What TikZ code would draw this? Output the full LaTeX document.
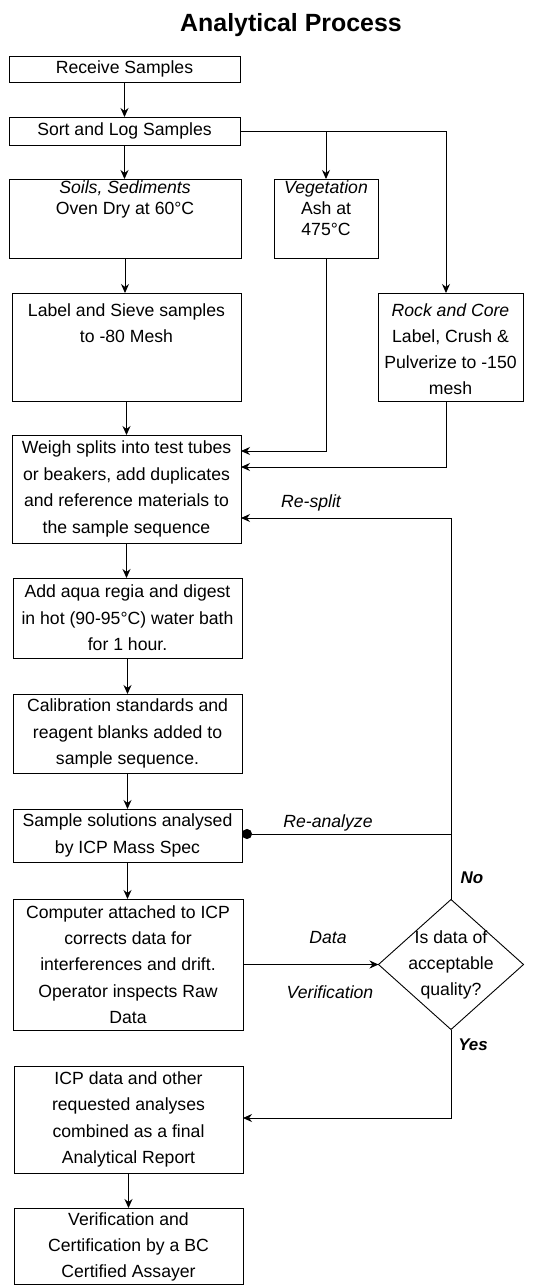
\documentclass[tikz,border=0pt]{standalone}
\usepackage{fontspec}
\setmainfont{Liberation Sans}
\usetikzlibrary{arrows.meta,shapes.geometric}
\newcommand\bodyfont{\fontsize{17.7}{26.5}\selectfont}
\newcommand\topfont{\fontsize{17.7}{20.8}\selectfont}
\begin{document}
\begin{tikzpicture}[x=1bp,y=-1bp,
  box/.style={draw, line width=0.9bp, inner sep=0pt, outer sep=0pt},
  txt/.style={align=center, font=\bodyfont, inner sep=0pt},
  ttxt/.style={align=center, font=\topfont, inner sep=0pt, anchor=north},
  lbl/.style={font=\bodyfont\itshape, inner sep=0pt},
  yn/.style={font=\fontsize{17}{20}\selectfont\bfseries\itshape, inner sep=0pt},
  arr/.style={line width=0.9bp, -{Stealth[length=9bp,width=8bp]}},
  ln/.style={line width=0.9bp},
  dotarr/.style={line width=0.9bp, -{Circle[length=10bp]}}
]
\useasboundingbox (0,0) rectangle (543,1286);

\node[font=\fontsize{25}{30}\selectfont\bfseries, inner sep=0pt] (title) at (291,25) {Analytical Process};

% boxes
\node[box, txt, minimum width=231bp, minimum height=26bp] (receive) at (124.5,69) {Receive Samples};
\node[box, txt, minimum width=231bp, minimum height=28bp] (sort) at (124.5,131) {Sort and Log Samples};

\node[box, minimum width=232bp, minimum height=79bp] (soils) at (125,218.5) {};
\node[ttxt] (soilst) at (125,181) {\itshape Soils, Sediments\\Oven Dry at 60°C};

\node[box, minimum width=104bp, minimum height=79bp] (veg) at (326,218.5) {};
\node[ttxt] (vegt) at (326,181) {\itshape Vegetation\\Ash at\\475°C};

\node[box, minimum width=229bp, minimum height=108bp] (label) at (126.5,347) {};
\node[ttxt, font=\bodyfont] (labelt) at (126.5,303.5) {Label and Sieve samples\\to -80 Mesh};

\node[box, minimum width=145bp, minimum height=108bp] (rock) at (450.5,347) {};
\node[txt, font=\fontsize{17.7}{26}\selectfont] (rockt) at (450.5,349) {\textit{Rock and Core}\\Label, Crush \&\\Pulverize to -150\\mesh};

\node[box, txt, minimum width=229bp, minimum height=108bp] (weigh) at (126.5,489) {Weigh splits into test tubes\\or beakers, add duplicates\\and reference materials to\\the sample sequence};

\node[box, txt, minimum width=229bp, minimum height=80bp] (add) at (127.5,618) {Add aqua regia and digest\\in hot (90-95°C) water bath\\for 1 hour.};

\node[box, txt, minimum width=229bp, minimum height=79bp] (calib) at (127.5,733.5) {Calibration standards and\\reagent blanks added to\\sample sequence.};

\node[box, txt, minimum width=229bp, minimum height=53bp] (sample) at (127.5,835.5) {Sample solutions analysed\\by ICP Mass Spec};

\node[box, txt, minimum width=230bp, minimum height=131bp] (computer) at (128,964.5) {Computer attached to ICP\\corrects data for\\interferences and drift.\\Operator inspects Raw\\Data};

\node[box, txt, minimum width=229bp, minimum height=107bp] (icp) at (128.5,1119.5) {ICP data and other\\requested analyses\\combined as a final\\Analytical Report};

\node[box, minimum width=229bp, minimum height=76bp] (verif) at (128.5,1246) {};
\node[txt] (veriftxt) at (128.5,1247) {Verification and\\Certification by a BC\\Certified Assayer};

\node[box, diamond, minimum width=145bp, minimum height=130bp] (dia) at (451,964.5) {};
\node[txt] (diat) at (451,965) {Is data of\\acceptable\\quality?};

% coordinates
\coordinate (rtop) at (446,131);
\coordinate (vj) at (326,451);
\coordinate (rj) at (446,467);
\coordinate (rs) at (451,518);
\coordinate (ra) at (451,834);
\coordinate (yj) at (451,1118);

% connectors
\draw[arr] (receive.south) -- (sort.north);
\draw[arr] (sort.south) -- (sort.south |- soils.north);
\draw[ln] (sort.east) -- (rtop);
\draw[arr] (rtop) -- (rtop |- rock.north);
\draw[arr] (veg.north |- sort.east) -- (veg.north);
\draw[arr] (soils.south) -- (soils.south |- label.north);
\draw[arr] (label.south) -- (weigh.north);
\draw[arr] (veg.south) -- (vj) -- (vj -| weigh.east);
\draw[arr] (rock.south -| rj) -- (rj) -- (rj -| weigh.east);
\draw[arr] (weigh.south) -- (weigh.south |- add.north);
\draw[arr] (add.south) -- (calib.north);
\draw[arr] (calib.south) -- (sample.north);
\draw[arr] (sample.south) -- (sample.south |- computer.north);
\draw[arr] (computer.east |- dia.west) -- (dia.west);
\draw[arr] (dia.north) -- (rs) -- (rs -| weigh.east);
\draw[dotarr] (ra) -- (ra -| sample.east);
\draw[arr] (dia.south) -- (yj) -- (yj -| icp.east);
\draw[arr] (icp.south) -- (verif.north);

% labels
\node[lbl] (resplit) at (311,503) {Re-split};
\node[lbl] (reanalyze) at (328,823) {Re-analyze};
\node[lbl] (datal) at (328,938) {Data};
\node[lbl] (verl) at (330,992) {Verification};
\node[yn] (nol) at (472,878) {No};
\node[yn] (yesl) at (473,1045) {Yes};
\end{tikzpicture}
\end{document}
